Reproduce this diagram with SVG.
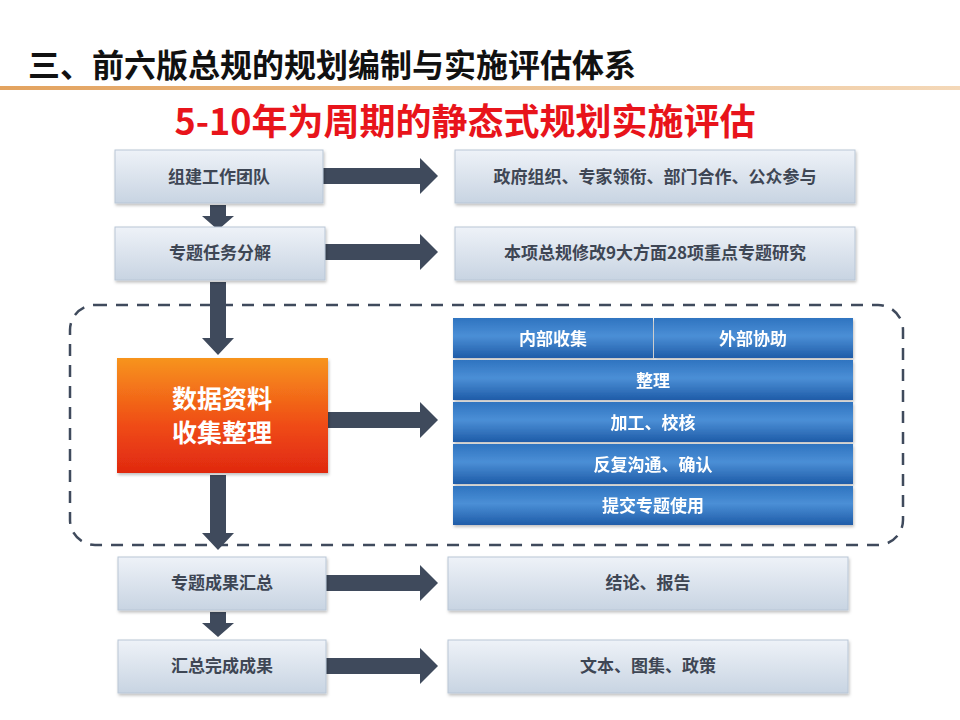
<svg xmlns="http://www.w3.org/2000/svg" width="960" height="720" viewBox="0 0 960 720">
<defs>
<linearGradient id="gbox" x1="0" y1="0" x2="0" y2="1"><stop offset="0" stop-color="#eef2f8"/><stop offset="1" stop-color="#c8d4e2"/></linearGradient>
<linearGradient id="gor" x1="0" y1="0" x2="0" y2="1"><stop offset="0" stop-color="#f7941d"/><stop offset="0.6" stop-color="#ef4a16"/><stop offset="1" stop-color="#e02810"/></linearGradient>
<linearGradient id="gbl" x1="0" y1="0" x2="0" y2="1"><stop offset="0" stop-color="#2f74c0"/><stop offset="0.45" stop-color="#4b8fd6"/><stop offset="1" stop-color="#1f5ca8"/></linearGradient>
<linearGradient id="gline" x1="0" y1="0" x2="1" y2="0"><stop offset="0" stop-color="#e3a35f"/><stop offset="1" stop-color="#f4d8b8"/></linearGradient>
<filter id="sh" x="-5%" y="-10%" width="115%" height="130%"><feDropShadow dx="1" dy="2" stdDeviation="1.5" flood-color="#000" flood-opacity="0.25"/></filter>
</defs>
<style>
.box{fill:url(#gbox);stroke:#b9c6d6;stroke-width:1;filter:url(#sh)}
.t{font-family:"Noto Sans CJK SC","Liberation Sans",sans-serif;font-size:17px;fill:#3e4654;text-anchor:middle;font-weight:bold}
.w{font-family:"Noto Sans CJK SC",sans-serif;font-size:17px;fill:#fff;text-anchor:middle;font-weight:bold}
.row{fill:url(#gbl)}
.arr{fill:#3f4a5c}
</style>
<rect width="960" height="720" fill="#fff"/>
<text x="28" y="77" font-family="Noto Sans CJK SC,sans-serif" font-size="32" font-weight="bold" fill="#111">三、前六版总规的规划编制与实施评估体系</text>
<rect x="0" y="86" width="960" height="4" fill="url(#gline)"/>
<text x="465" y="135" font-family="Noto Sans CJK SC,sans-serif" font-size="36" font-weight="bold" fill="#e8141b" text-anchor="middle">5-10年为周期的静态式规划实施评估</text>
<rect x="70" y="305" width="833" height="240" rx="25" fill="none" stroke="#3f4a5c" stroke-width="2.5" stroke-dasharray="12,9"/>
<g id="connectors">
<path class="arr" d="M318 168H420V158L438 176L420 194V184H318Z"/>
<path class="arr" d="M318 244H420V234L438 252L420 270V260H318Z"/>
<path class="arr" d="M318 412H420V402L438 420L420 438V428H318Z"/>
<path class="arr" d="M318 575H420V565L438 583L420 601V591H318Z"/>
<path class="arr" d="M318 658H420V648L438 666L420 684V674H318Z"/>
<path class="arr" d="M210 205H226V216H234L218 230L202 216H210Z"/>
<path class="arr" d="M210 282H226V338H234L218 355L202 338H210Z"/>
<path class="arr" d="M210 475H226V533H234L218 550L202 533H210Z"/>
<path class="arr" d="M210 612H226V623H234L218 637L202 623H210Z"/>
</g>
<g id="n1"><rect class="box" x="115" y="150" width="208" height="53"/><text class="t" x="219" y="183">组建工作团队</text></g>
<g id="n2"><rect class="box" x="115" y="227" width="210" height="53"/><text class="t" x="220" y="259">专题任务分解</text></g>
<g id="n3"><rect x="117" y="358" width="211" height="115" fill="url(#gor)" filter="url(#sh)"/><text x="222" y="408" font-family="Noto Sans CJK SC,sans-serif" font-size="25" font-weight="bold" fill="#fff" text-anchor="middle">数据资料</text><text x="222" y="442" font-family="Noto Sans CJK SC,sans-serif" font-size="25" font-weight="bold" fill="#fff" text-anchor="middle">收集整理</text></g>
<g id="n4"><rect class="box" x="118" y="557" width="208" height="53"/><text class="t" x="222" y="589">专题成果汇总</text></g>
<g id="n5"><rect class="box" x="118" y="640" width="208" height="53"/><text class="t" x="222" y="672">汇总完成成果</text></g>
<g id="r1"><rect class="box" x="455" y="150" width="400" height="53"/><text class="t" x="655" y="183">政府组织、专家领衔、部门合作、公众参与</text></g>
<g id="r2"><rect class="box" x="455" y="227" width="400" height="53"/><text class="t" x="655" y="259">本项总规修改9大方面28项重点专题研究</text></g>
<g id="r4"><rect class="box" x="448" y="557" width="400" height="53"/><text class="t" x="648" y="589">结论、报告</text></g>
<g id="r5"><rect class="box" x="448" y="640" width="400" height="53"/><text class="t" x="648" y="672">文本、图集、政策</text></g>
<g id="table" filter="url(#sh)">
<rect class="row" x="453" y="318" width="200" height="40"/>
<rect class="row" x="654" y="318" width="199" height="40"/>
<rect class="row" x="453" y="360" width="400" height="40"/>
<rect class="row" x="453" y="402" width="400" height="40"/>
<rect class="row" x="453" y="444" width="400" height="40"/>
<rect class="row" x="453" y="486" width="400" height="39"/>
<text class="w" x="553" y="345">内部收集</text>
<text class="w" x="753" y="345">外部协助</text>
<text class="w" x="653" y="387">整理</text>
<text class="w" x="653" y="429">加工、校核</text>
<text class="w" x="653" y="471">反复沟通、确认</text>
<text class="w" x="653" y="512">提交专题使用</text>
</g>
</svg>
